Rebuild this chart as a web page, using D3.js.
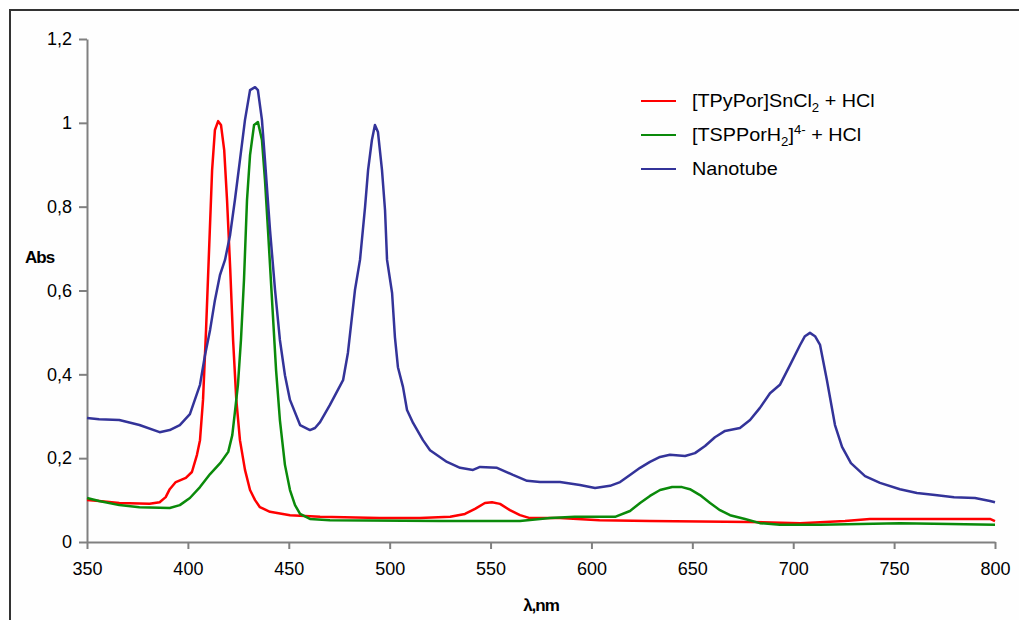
<!DOCTYPE html>
<html>
<head>
<meta charset="utf-8">
<script src="https://cdn.jsdelivr.net/npm/d3@7"></script>
<style>
  body { margin: 0; background: #fff; }
  text { font-family: Arial, "Liberation Sans", sans-serif; }
</style>
</head>
<body>
<svg width="1019" height="620"></svg>
<script>
var width = 1019;
var height = 620;

// wavelength (nm) / absorbance
var redWl  = [350,356,366,381,386,389,391,394,399,402,404.5,406,407.5,409,410.5,412,413.4,415,416.4,418,419.4,421,422.4,424,425.8,428.3,430.8,433.3,435.7,440.7,450.6,465.5,495,515,530,537.3,542.3,547.2,550.7,554.7,559.6,564.6,569.5,584.4,604,629,678.6,703.4,725.7,738,762.8,797.5,800];
var redAbs = [0.100,0.098,0.093,0.091,0.095,0.107,0.126,0.143,0.153,0.167,0.208,0.243,0.339,0.506,0.697,0.887,0.983,1.004,0.995,0.935,0.816,0.649,0.482,0.339,0.243,0.172,0.124,0.100,0.083,0.072,0.064,0.060,0.057,0.057,0.060,0.067,0.079,0.093,0.095,0.091,0.076,0.064,0.057,0.057,0.052,0.050,0.048,0.045,0.050,0.055,0.055,0.055,0.050];

var greenWl  = [350,356,366,376,391,396,401,406,411,416,420,422,423.3,424.8,426.3,427.8,429.3,430.8,432.8,434.7,436.7,438.2,439.7,441.7,443.7,445.6,448.1,450.6,453.1,455.6,460.5,470.4,525,564.6,579.5,591.8,611.7,619.1,624.1,629,634,640,644.9,648.8,653.8,658.8,663.7,668.7,676.1,683.5,693.4,713.3,733.1,752.9,777.7,800];
var greenAbs = [0.105,0.098,0.088,0.083,0.081,0.088,0.105,0.131,0.162,0.188,0.215,0.255,0.310,0.375,0.482,0.625,0.816,0.923,0.995,1.002,0.959,0.864,0.744,0.577,0.410,0.291,0.184,0.124,0.088,0.067,0.055,0.052,0.050,0.050,0.057,0.060,0.060,0.074,0.093,0.110,0.124,0.131,0.131,0.126,0.112,0.093,0.076,0.064,0.055,0.045,0.041,0.041,0.043,0.045,0.043,0.041];

var blueWl  = [350,356,366,376,386,391,396,401,406,408.5,411,413.4,415.9,418.4,420.9,423.3,425.8,428.3,430.8,433.3,434.7,436.7,438.2,440.7,443.2,445.6,448.1,450.6,455.6,460.5,463,465.5,470.4,476.9,479.3,482.8,485.3,487.8,489.3,491.2,492.7,494.2,496.2,497.7,498.7,501.2,502.6,504.1,506.6,508.6,511.6,516.5,520,528.4,534.9,541.3,544.8,553.2,561.1,568.1,574.5,584.4,594.3,601.8,609.2,614.2,619.1,624.1,629,634,638.9,646.4,651.3,656.3,661.2,666.2,673.6,678.6,683.5,688.5,693.4,698.4,703.4,705.8,708.3,710.8,713.3,716.7,720.7,724.2,728.6,735.6,743,752.9,761.3,770.3,779.7,790.1,797.5,800];
var blueAbs = [0.296,0.293,0.291,0.279,0.262,0.267,0.279,0.305,0.375,0.446,0.506,0.577,0.637,0.673,0.732,0.816,0.911,1.007,1.078,1.085,1.078,1.007,0.911,0.744,0.601,0.482,0.398,0.339,0.279,0.267,0.272,0.286,0.327,0.386,0.451,0.601,0.673,0.799,0.887,0.959,0.995,0.978,0.887,0.792,0.673,0.594,0.489,0.417,0.370,0.315,0.284,0.243,0.219,0.191,0.177,0.172,0.179,0.177,0.160,0.146,0.143,0.143,0.136,0.129,0.134,0.143,0.160,0.177,0.191,0.203,0.208,0.205,0.212,0.229,0.250,0.265,0.272,0.291,0.320,0.355,0.375,0.422,0.470,0.491,0.499,0.491,0.470,0.386,0.279,0.227,0.188,0.157,0.141,0.126,0.117,0.112,0.107,0.105,0.098,0.095];

var xTicks = [350,400,450,500,550,600,650,700,750,800];
var yTicks = [0,0.2,0.4,0.6,0.8,1,1.2];

var series = [
  {name: "red",   wl: redWl,   abs: redAbs,   color: "#ff0000"},
  {name: "green", wl: greenWl, abs: greenAbs, color: "#0a8a0a"},
  {name: "blue",  wl: blueWl,  abs: blueAbs,  color: "#333399"}
];

var comma = d3.formatLocale({decimal: ",", thousands: ".", grouping: [3], currency: ["", ""]});

var svg = d3.select("svg");

// outer frame (runs off the right and bottom edge)
svg.append("rect")
    .attr("x", 10).attr("y", 10)
    .attr("width", 1100).attr("height", 700)
    .attr("fill", "#fefefe")
    .attr("stroke", "#333")
    .attr("stroke-width", 2);

var xScale = d3.scaleLinear().domain([350, 800]).range([87, 995]);
var yScale = d3.scaleLinear().domain([0, 1.2]).range([542, 39]);

var xAxis = d3.axisBottom(xScale)
    .tickValues(xTicks)
    .tickSize(7)
    .tickSizeOuter(0)
    .tickPadding(13)
    .tickFormat(d3.format("d"));
var yAxis = d3.axisLeft(yScale)
    .tickValues(yTicks)
    .tickSize(8)
    .tickSizeOuter(0)
    .tickPadding(7)
    .tickFormat(comma.format("~g"));

var gx = svg.append("g")
    .attr("transform", "translate(0," + yScale(0) + ")")
    .call(xAxis);
var gy = svg.append("g")
    .attr("transform", "translate(" + xScale(350) + ",0)")
    .call(yAxis);

[gx, gy].forEach(function(g) {
  g.select(".domain").attr("stroke", "#808080").attr("stroke-width", 2);
  g.selectAll(".tick line").attr("stroke", "#808080").attr("stroke-width", 2);
  g.selectAll(".tick text")
      .attr("fill", "#000")
      .style("font-size", "18px")
      .style("font-family", "Arial, 'Liberation Sans', sans-serif");
});

var line = d3.line()
    .x(d => xScale(d[0]))
    .y(d => yScale(d[1]));

svg.selectAll("path.trace")
    .data(series)
    .enter()
    .append("path")
      .attr("class", "trace")
      .attr("fill", "none")
      .attr("stroke", d => d.color)
      .attr("stroke-width", 2.5)
      .attr("stroke-linejoin", "round")
      .attr("d", d => line(d.wl.map((w, i) => [w, d.abs[i]])));

// legend
var legendY = [101, 135, 169];
var legend = svg.append("g");
series.forEach(function(s, i) {
  legend.append("line")
      .attr("x1", 641).attr("x2", 676)
      .attr("y1", legendY[i]).attr("y2", legendY[i])
      .attr("stroke", s.color)
      .attr("stroke-width", 2);
});
function legendText(i) {
  return legend.append("text")
      .attr("transform", "translate(692," + (legendY[i] + 6) + ") scale(1.1,1)")
      .style("font-size", "18px");
}
var t1 = legendText(0);
t1.append("tspan").text("[TPyPor]SnCl");
t1.append("tspan").attr("dy", 5).style("font-size", "12px").text("2");
t1.append("tspan").attr("dy", -5).text(" + HCl");

var t2 = legendText(1);
t2.append("tspan").text("[TSPPorH");
t2.append("tspan").attr("dy", 5).style("font-size", "12px").text("2");
t2.append("tspan").attr("dy", -5).text("]");
t2.append("tspan").attr("dy", -7).style("font-size", "12px").text("4-");
t2.append("tspan").attr("dy", 7).text(" + HCl");

legendText(2).text("Nanotube");

// axis titles
svg.append("text")
    .attr("x", 25)
    .attr("y", 263)
    .style("font-size", "17px")
    .style("font-weight", "bold")
    .style("letter-spacing", "-1px")
    .text("Abs");

svg.append("text")
    .attr("x", (xScale(350) + xScale(800)) / 2)
    .attr("y", 611)
    .style("text-anchor", "middle")
    .style("font-size", "17px")
    .style("font-weight", "bold")
    .style("letter-spacing", "-1px")
    .text("λ,nm");
</script>
</body>
</html>
